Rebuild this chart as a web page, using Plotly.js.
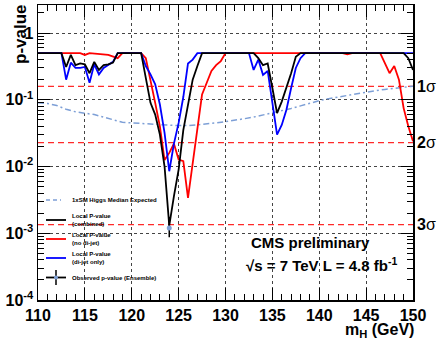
<!DOCTYPE html>
<html>
<head>
<meta charset="utf-8">
<script src="https://cdn.plot.ly/plotly-3.0.1.min.js"></script>
<style>
  html, body { margin: 0; padding: 0; background: #fff; }
  #chart { width: 441px; height: 343px; }
</style>
</head>
<body>
<div id="chart"></div>
<script>
// Local p-value scan versus Higgs mass hypothesis m_H (GeV)

// Combined local p-value
const combX = [110, 112.5, 113, 113.5, 114, 114.5, 115, 115.5, 116, 116.5, 117, 117.5, 118, 118.5,
               121, 121.5, 122, 122.5, 123, 123.5, 124, 124.5, 125, 125.5, 126, 126.5, 127, 127.5,
               133, 133.5, 134, 134.5, 135, 135.5, 136, 136.5, 137, 137.5, 138, 149, 149.5, 150];
const combP = [0.5, 0.5, 0.31, 0.47, 0.33, 0.35, 0.34, 0.25, 0.37, 0.28, 0.33, 0.34, 0.36, 0.5,
               0.5, 0.22, 0.09, 0.06, 0.03, 0.01, 0.0013, 0.0036, 0.009, 0.035, 0.09, 0.2, 0.32, 0.5,
               0.5, 0.42, 0.33, 0.35, 0.15, 0.063, 0.094, 0.15, 0.25, 0.44, 0.5, 0.5, 0.42, 0.28];

// Local p-value without the di-jet category
const noDijetX = [110, 114.5, 115, 115.5, 117.5, 118, 118.5, 119, 121, 121.5, 122, 122.5, 123, 123.5,
                  124, 124.5, 125, 125.5, 126, 126.5, 127, 127.5, 128, 128.5, 129, 129.5, 130,
                  142.5, 143, 143.5, 146.5, 147, 147.5, 148, 148.5, 149, 149.5, 150];
const noDijetP = [0.5, 0.5, 0.47, 0.5, 0.47, 0.45, 0.42, 0.5, 0.5, 0.42, 0.2, 0.09, 0.04, 0.0125,
                  0.016, 0.022, 0.0127, 0.012, 0.0034, 0.0114, 0.04, 0.12, 0.18, 0.27, 0.33, 0.38, 0.5,
                  0.5, 0.48, 0.5, 0.5, 0.36, 0.25, 0.32, 0.2, 0.075, 0.04, 0.024];

// Local p-value of the di-jet category only
const dijetX = [110, 112.5, 113, 113.5, 114, 114.5, 115, 115.5, 116, 116.5, 117, 117.5, 118, 118.5,
                121, 121.5, 122, 122.5, 123, 123.5, 124, 124.5, 125, 125.5, 126, 126.5, 127,
                132.5, 133, 133.5, 134, 134.5, 135, 135.5, 136, 136.5, 137, 137.5, 138, 138.5, 150];
const dijetP = [0.5, 0.5, 0.2, 0.36, 0.30, 0.30, 0.31, 0.18, 0.34, 0.24, 0.30, 0.33, 0.37, 0.5,
                0.5, 0.32, 0.24, 0.17, 0.085, 0.032, 0.0085, 0.022, 0.045, 0.11, 0.35, 0.4, 0.5,
                0.5, 0.28, 0.4, 0.236, 0.27, 0.09, 0.03, 0.042, 0.071, 0.15, 0.3, 0.42, 0.5, 0.5];

// Median expected p-value for a SM Higgs
const expX = [110, 111, 112, 113, 114, 115, 116, 117, 118, 119, 120, 121, 122, 123, 124, 125, 126, 127,
              128, 129, 130, 131, 132, 133, 134, 135, 136, 137, 138, 139, 140, 141, 142, 143, 144, 145,
              146, 147, 148, 149, 150];
const expP = [0.09, 0.088, 0.082, 0.072, 0.066, 0.063, 0.06, 0.055, 0.05, 0.046, 0.045, 0.044, 0.043,
              0.042, 0.041, 0.041, 0.041, 0.042, 0.043, 0.045, 0.047, 0.049, 0.052, 0.055, 0.059, 0.063,
              0.068, 0.074, 0.081, 0.089, 0.097, 0.104, 0.11, 0.117, 0.124, 0.13, 0.137, 0.143, 0.149,
              0.155, 0.16];

// Observed p-value from pseudo-experiment ensemble
const ensX = [124];
const ensP = [0.0012];
const ensUp = [0.00055];
const ensDown = [0.00033];

// Gaussian significance levels
const sigmaP = [0.1587, 0.02275, 0.00135];
const sigmaText = ['1', '2', '3'];

const xTicks = [110, 115, 120, 125, 130, 135, 140, 145, 150];
const yTicks = [1e-4, 1e-3, 1e-2, 1e-1, 1];
const yTickText = ['10<sup>-4</sup>', '10<sup>-3</sup>', '10<sup>-2</sup>', '10<sup>-1</sup>', '1'];

const FONT = 'Liberation Sans, Arial, Helvetica, sans-serif';
const EXP_COLOR = '#7d9fd6';

const traces = [
  { x: expX, y: expP, mode: 'lines', line: { color: EXP_COLOR, width: 1.5, dash: '6px,3px,2px,3px' }, hoverinfo: 'skip' },
  { x: noDijetX, y: noDijetP, mode: 'lines', line: { color: '#ff0000', width: 1.8 } },
  { x: dijetX, y: dijetP, mode: 'lines', line: { color: '#0000ff', width: 1.8 } },
  { x: combX, y: combP, mode: 'lines', line: { color: '#000000', width: 1.8 } },
  { x: ensX, y: ensP, mode: 'markers',
    marker: { color: EXP_COLOR, size: 5 },
    error_y: { type: 'data', symmetric: false, array: ensUp, arrayminus: ensDown,
               color: '#000', thickness: 1.5, width: 0 } }
];

// Plot-area geometry helpers for the legend (paper coordinates)
const L = 38, R = 28, T = 5, B = 43, W = 441, H = 343;
const pw = W - L - R, ph = H - T - B;
const px = v => (v - L) / pw;
const py = v => 1 - (v - T) / ph;

const shapes = [];
sigmaP.forEach(p => {
  shapes.push({ type: 'line', xref: 'x', yref: 'y', x0: 110, x1: 150, y0: p, y1: p, layer: 'between',
                line: { color: '#ff2a2a', width: 1.3, dash: '6px,4px' } });
});
// legend box
shapes.push({ type: 'rect', xref: 'paper', yref: 'paper', x0: px(40), x1: px(157), y0: py(292), y1: py(181),
              layer: 'between', fillcolor: '#ffffff', line: { width: 0 } });
// legend samples
const legLine = (yPix, color, dash, x1) => ({ type: 'line', xref: 'paper', yref: 'paper',
  x0: px(46), x1: px(x1 || 66), y0: py(yPix), y1: py(yPix), layer: 'between',
  line: { color: color, width: dash ? 1.5 : 1.8, dash: dash || 'solid' } });
shapes.push(legLine(200, EXP_COLOR, '4px,3px', 61));
shapes.push(legLine(220, '#000000'));
shapes.push(legLine(239, '#ff0000'));
shapes.push(legLine(258, '#0000ff'));
shapes.push(legLine(277.5, '#000000'));
shapes.push({ type: 'line', xref: 'paper', yref: 'paper', x0: px(56), x1: px(56), y0: py(285), y1: py(270),
              layer: 'between', line: { color: '#000', width: 1.5 } });
shapes.push({ type: 'circle', xref: 'paper', yref: 'paper', x0: px(54), x1: px(58), y0: py(279.5), y1: py(275.5),
              layer: 'between', fillcolor: EXP_COLOR, line: { width: 0 } });

const legFont = { family: FONT, size: 6, color: '#000', weight: 'bold' };
const legText = (yPix, text) => ({ xref: 'paper', yref: 'paper', x: px(70), y: py(yPix), xanchor: 'left',
  yanchor: 'middle', align: 'left', showarrow: false, text: text, font: legFont });

const textAt = (xPix, yPix, text, font, extra) => Object.assign({
  xref: 'paper', yref: 'paper', x: px(xPix), y: py(yPix), xanchor: 'center', yanchor: 'middle',
  showarrow: false, text: text, font: font }, extra || {});

const annotations = [
  legText(200, '1xSM Higgs Median Expected'),
  legText(219.5, 'Local P-value<br>(combined)'),
  legText(239, 'Local P-value<br>(no di-jet)'),
  legText(258, 'Local P-value<br>(di-jet only)'),
  legText(277.5, 'Observed p-value (Ensemble)'),
  textAt(20, 34, 'p-value', { family: FONT, size: 17, color: '#000', weight: 'bold' }, { textangle: -90 }),
  textAt(379, 330, 'm<sub>H</sub> (GeV)', { family: FONT, size: 16, color: '#000', weight: 'bold' }),
  textAt(310, 242, 'CMS preliminary', { family: FONT, size: 15, color: '#000', weight: 'bold' }),
  textAt(321, 264, '\u221As = 7 TeV L = 4.8 fb<sup>-1</sup>', { family: FONT, size: 15, color: '#000', weight: 'bold' })
];
sigmaP.forEach((p, i) => {
  annotations.push({ xref: 'paper', yref: 'y', x: px(415), y: Math.log10(p), xanchor: 'left', yanchor: 'middle',
    showarrow: false, text: '<b>' + sigmaText[i] + '</b>\u03C3',
    font: { family: FONT, size: 16, color: '#000' } });
});

const layout = {
  width: W, height: H,
  margin: { l: L, r: R, t: T, b: B, pad: 0 },
  paper_bgcolor: '#fff', plot_bgcolor: '#fff',
  showlegend: false,
  font: { family: FONT, color: '#000' },
  xaxis: {
    range: [110, 150], tickvals: xTicks, ticktext: xTicks.map(String),
    ticks: 'inside', ticklen: 12, tickwidth: 1, tickcolor: '#000',
    minor: { dtick: 1, ticks: 'inside', ticklen: 6, tickcolor: '#000', showgrid: false },
    showline: true, linecolor: '#000', linewidth: 1.5, mirror: 'ticks',
    showgrid: true, gridcolor: '#444', griddash: 'dot', gridwidth: 1,
    tickfont: { family: FONT, size: 16, color: '#000', weight: 'bold' },
    zeroline: false
  },
  yaxis: {
    type: 'log', range: [-4, 0.42], tickvals: yTicks, ticktext: yTickText,
    ticks: 'inside', ticklen: 12, tickwidth: 1, tickcolor: '#000',
    minor: { dtick: 'D1', ticks: 'inside', ticklen: 6, tickcolor: '#000', showgrid: false },
    showline: true, linecolor: '#000', linewidth: 1.5, mirror: 'ticks',
    showgrid: true, gridcolor: '#444', griddash: 'dot', gridwidth: 1,
    tickfont: { family: FONT, size: 16, color: '#000', weight: 'bold' },
    zeroline: false
  },
  shapes: shapes,
  annotations: annotations
};

Plotly.newPlot('chart', traces, layout, { staticPlot: true, displayModeBar: false });
</script>
</body>
</html>
